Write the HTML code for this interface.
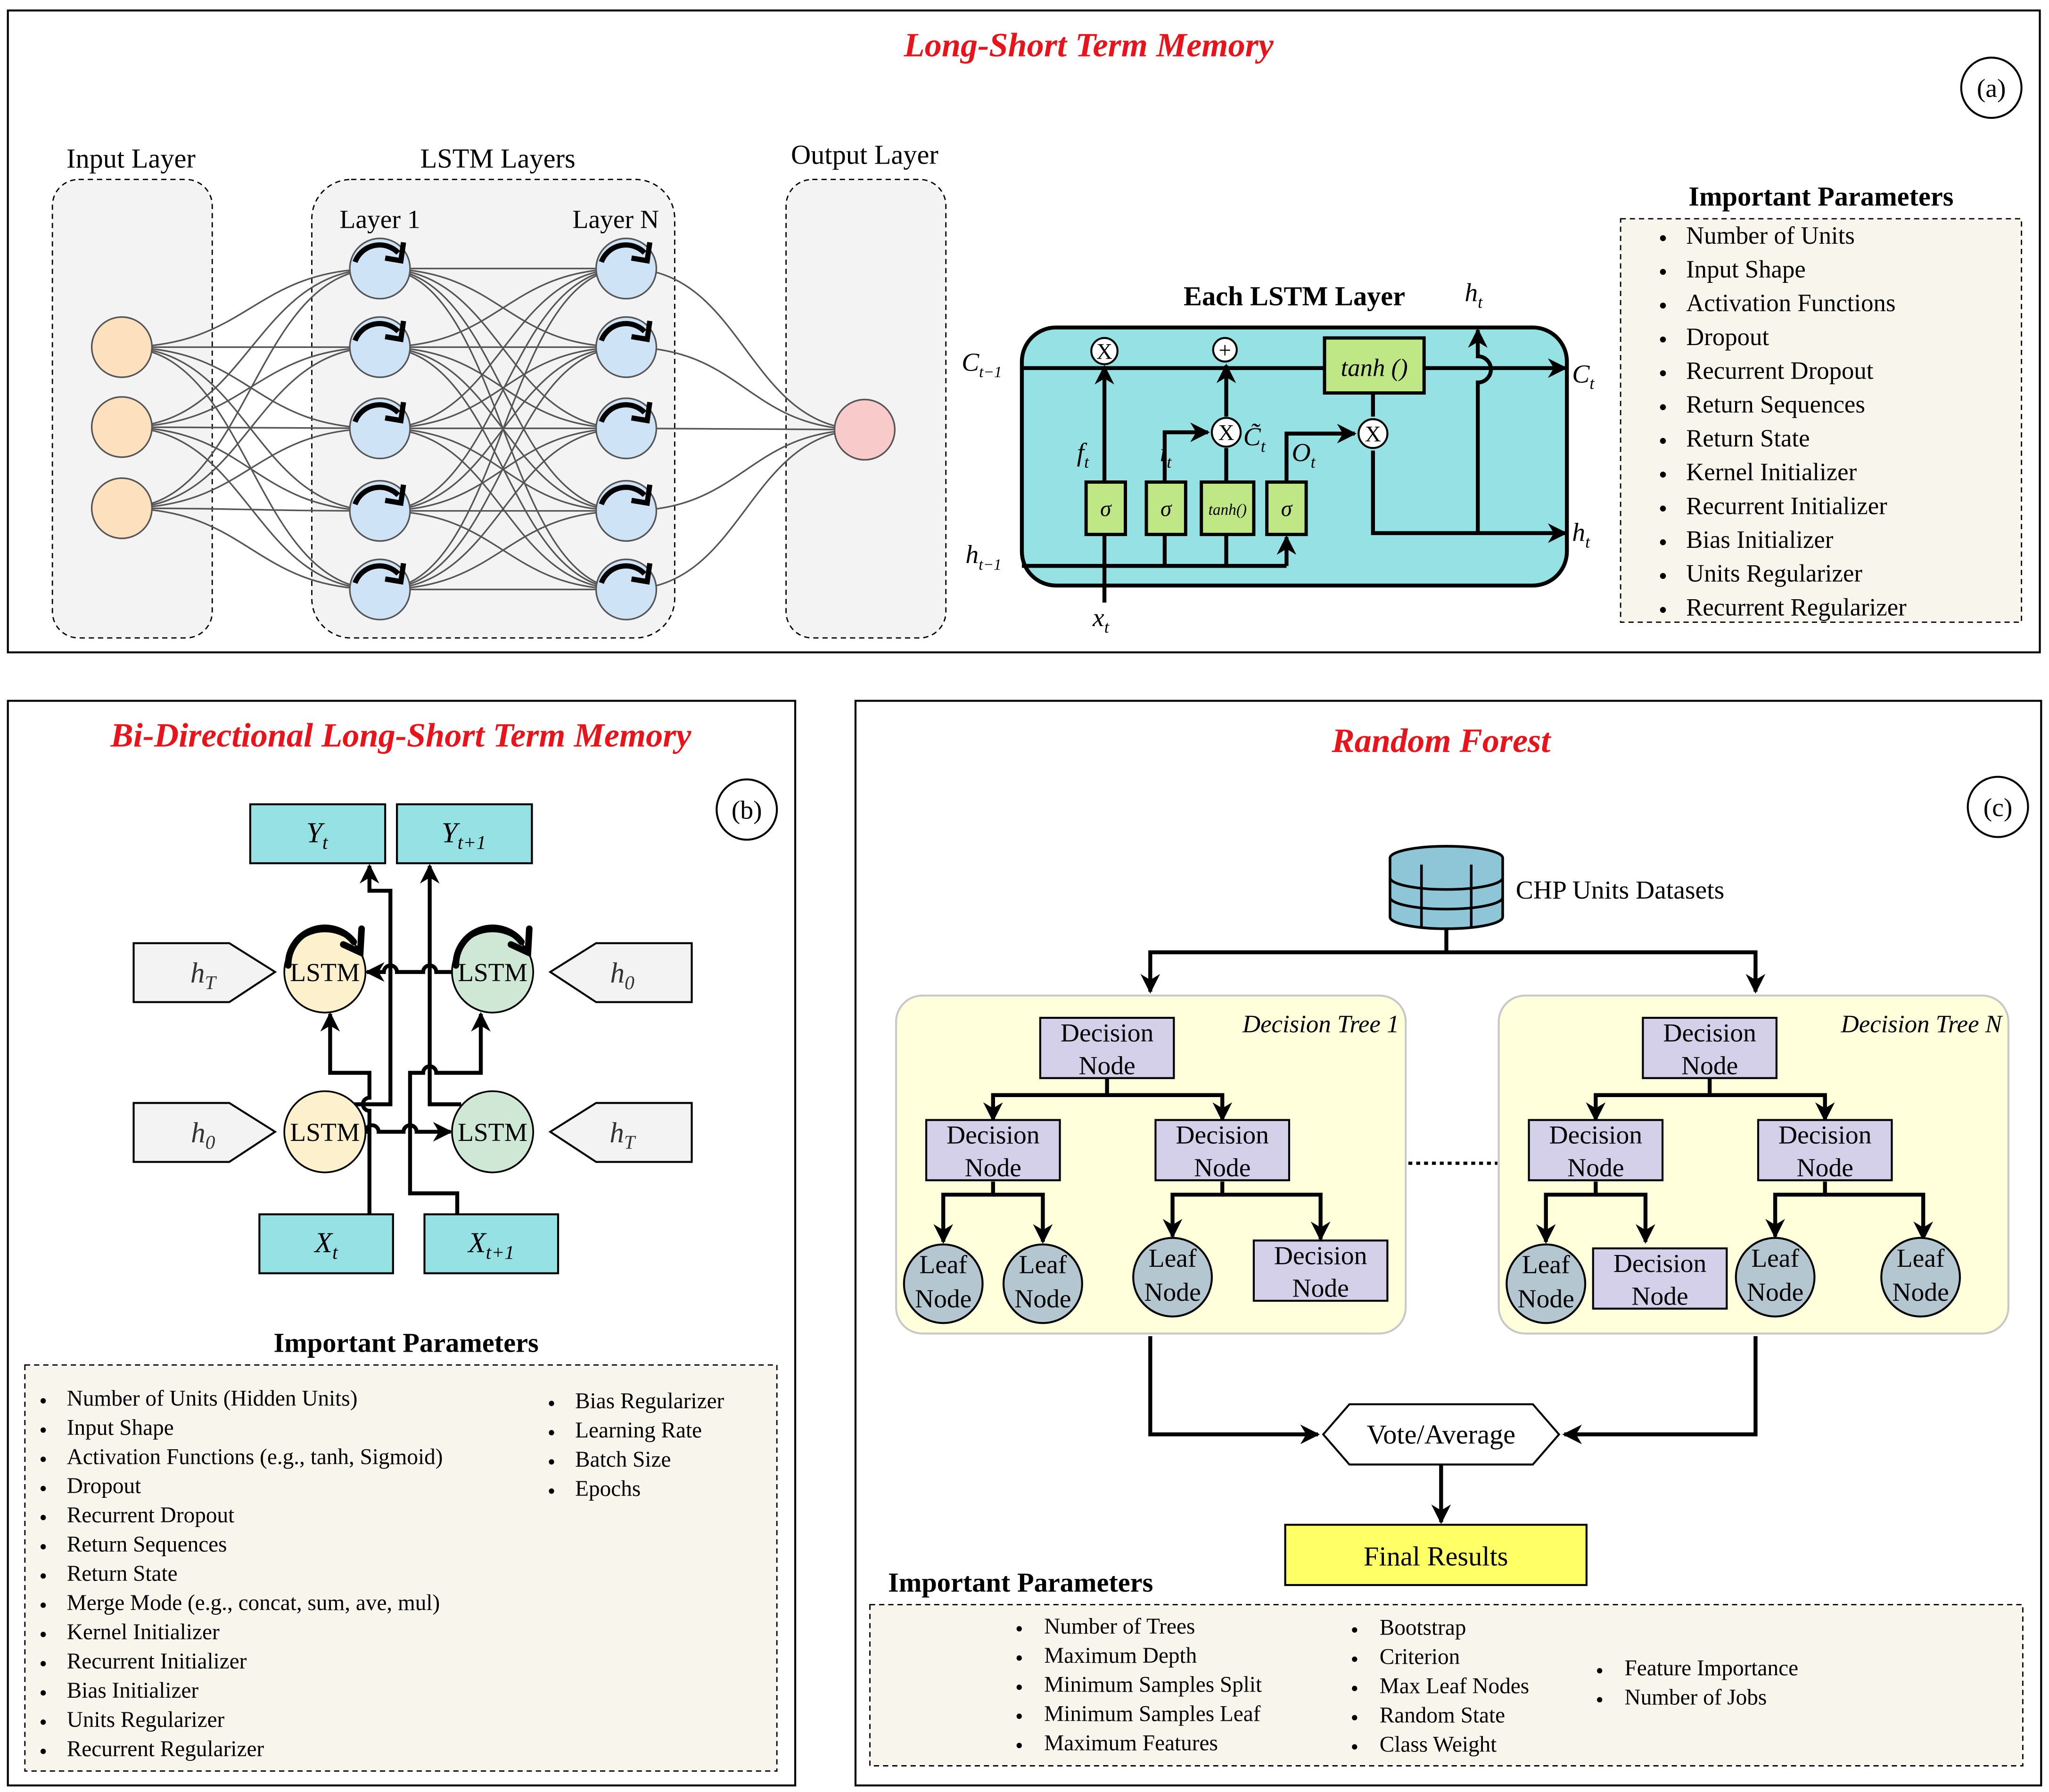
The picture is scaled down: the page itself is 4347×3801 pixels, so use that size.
<!DOCTYPE html>
<html><head><meta charset="utf-8"><style>
html,body{margin:0;padding:0;background:#fff;}
svg{display:block;}
text{font-family:"Liberation Serif",serif;}
</style></head><body>
<svg id="s" width="4347" height="3801" viewBox="0 0 1564 1368" preserveAspectRatio="none" xmlns="http://www.w3.org/2000/svg">
<defs>
<marker id="ar" viewBox="0 0 10 10" refX="9" refY="5" markerWidth="5" markerHeight="5" orient="auto"><path d="M0,0 L10,5 L0,10 L3,5 z" fill="#000"/></marker>
</defs>
<rect width="1564" height="1368" fill="#fff"/>
<!-- Panel a -->
<rect x="6" y="8" width="1551" height="490" fill="#fff" stroke="#000" stroke-width="1.5"/>
<text x="831" y="43" text-anchor="middle" font-size="26" font-weight="bold" font-style="italic" fill="#e8141b">Long-Short Term Memory</text>
<circle cx="1520" cy="67" r="23" fill="#fff" stroke="#000" stroke-width="1.5"/>
<text x="1520" y="74" text-anchor="middle" font-size="20">(a)</text>
<rect x="40" y="137" width="122" height="350" rx="20" fill="#f3f3f3" stroke="#000" stroke-dasharray="4,3"/>
<rect x="238" y="137" width="277" height="350" rx="30" fill="#f3f3f3" stroke="#000" stroke-dasharray="4,3"/>
<rect x="600" y="137" width="122" height="350" rx="20" fill="#f3f3f3" stroke="#000" stroke-dasharray="4,3"/>
<text x="100" y="128" text-anchor="middle" font-size="21">Input Layer</text>
<text x="380" y="128" text-anchor="middle" font-size="21">LSTM Layers</text>
<text x="660" y="125" text-anchor="middle" font-size="21">Output Layer</text>
<text x="290" y="174" text-anchor="middle" font-size="20">Layer 1</text>
<text x="470" y="174" text-anchor="middle" font-size="20">Layer N</text>
<g id="conns" fill="none" stroke="#555" stroke-width="1.2"></g>
<g id="nodes"></g>
<!-- LSTM cell -->
<text x="988" y="233" text-anchor="middle" font-size="21" font-weight="bold">Each LSTM Layer</text>
<text x="1118" y="230" font-size="20" font-style="italic">h<tspan font-size="13" dy="5">t</tspan></text>
<rect x="780" y="250" width="416" height="197" rx="26" fill="#95e1e4" stroke="#000" stroke-width="3"/>
<g stroke="#000" stroke-width="3" fill="none">
<line x1="780" y1="281" x2="1010" y2="281"/>
<line x1="1087" y1="281" x2="1195" y2="281" marker-end="url(#ar)"/>
<line x1="780" y1="432" x2="982" y2="432"/>
<line x1="982" y1="432" x2="982" y2="410" marker-end="url(#ar)"/>
<line x1="843" y1="460" x2="843" y2="409"/>
<line x1="889" y1="432" x2="889" y2="409"/>
<line x1="936" y1="432" x2="936" y2="409"/>
<line x1="843" y1="368" x2="843" y2="280" marker-end="url(#ar)"/>
<polyline points="889,368 889,330 922,330" marker-end="url(#ar)"/>
<line x1="936" y1="368" x2="936" y2="342"/>
<line x1="936" y1="318" x2="936" y2="279" marker-end="url(#ar)"/>
<polyline points="982,368 982,331 1034,331" marker-end="url(#ar)"/>
<line x1="1048" y1="300" x2="1048" y2="318"/>
<polyline points="1048,344 1048,407 1195,407" marker-end="url(#ar)"/>
<path d="M1128,407 L1128,292 A6,6 0 0 0 1128,272 L1128,252" marker-end="url(#ar)"/>
</g>
<g stroke="#000" stroke-width="1.5" fill="#fff">
<circle cx="843" cy="268" r="10"/><circle cx="935" cy="267" r="9"/><circle cx="936" cy="330" r="11"/><circle cx="1048" cy="331" r="11"/>
</g>
<g font-size="17" text-anchor="middle"><text x="843" y="274">X</text><text x="935" y="273">+</text><text x="936" y="336">X</text><text x="1048" y="337">X</text></g>
<g stroke="#000" stroke-width="2.5" fill="#bfe786">
<rect x="1011" y="258" width="76" height="42"/><rect x="829" y="368" width="30" height="40"/><rect x="875" y="368" width="30" height="40"/><rect x="917" y="368" width="40" height="40"/><rect x="967" y="368" width="30" height="40"/>
</g>
<g font-style="italic" text-anchor="middle">
<text x="1049" y="287" font-size="19">tanh ()</text>
<text x="844" y="394" font-size="17">σ</text><text x="890" y="394" font-size="17">σ</text><text x="937" y="393" font-size="12">tanh()</text><text x="982" y="394" font-size="17">σ</text>
</g>
<g font-style="italic" font-size="20">
<text x="822" y="352">f<tspan font-size="13" dy="5">t</tspan></text>
<text x="885" y="352">i<tspan font-size="13" dy="5">t</tspan></text>
<text x="949" y="340">C̃<tspan font-size="13" dy="5">t</tspan></text>
<text x="986" y="352">O<tspan font-size="13" dy="5">t</tspan></text>
<text x="734" y="283">C<tspan font-size="12" dy="5">t−1</tspan></text>
<text x="1200" y="292">C<tspan font-size="13" dy="5">t</tspan></text>
<text x="737" y="430">h<tspan font-size="12" dy="5">t−1</tspan></text>
<text x="1200" y="413">h<tspan font-size="13" dy="5">t</tspan></text>
<text x="834" y="478">x<tspan font-size="13" dy="5">t</tspan></text>
</g>
<!-- params a -->
<text x="1390" y="157" text-anchor="middle" font-size="21" font-weight="bold">Important Parameters</text>
<rect x="1237" y="167" width="306" height="308" fill="#f8f6ec" stroke="#000" stroke-dasharray="4,3"/>
<g id="pa" font-size="19"></g>
<!-- Panel b -->
<rect x="6" y="535" width="601" height="828" fill="#fff" stroke="#000" stroke-width="1.5"/>
<text x="306" y="570" text-anchor="middle" font-size="26" font-weight="bold" font-style="italic" fill="#e8141b">Bi-Directional Long-Short Term Memory</text>
<circle cx="570" cy="618" r="23" fill="#fff" stroke="#000" stroke-width="1.5"/>
<text x="570" y="625" text-anchor="middle" font-size="20">(b)</text>
<g stroke="#000" stroke-width="1.5" fill="#95e1e4">
<rect x="191" y="614" width="103" height="45"/><rect x="303" y="614" width="103" height="45"/>
<rect x="198" y="927" width="102" height="45"/><rect x="324" y="927" width="102" height="45"/>
</g>
<g stroke="#000" stroke-width="1.5" fill="#f3f3f3">
<polygon points="102,720 175,720 210,742 175,765 102,765"/>
<polygon points="102,842 175,842 210,864 175,887 102,887"/>
<polygon points="528,720 455,720 420,742 455,765 528,765"/>
<polygon points="528,842 455,842 420,864 455,887 528,887"/>
</g>
<g font-style="italic" font-size="22" text-anchor="middle" fill="#333">
<text x="155" y="750">h<tspan font-size="15" dy="5">T</tspan></text>
<text x="155" y="872">h<tspan font-size="15" dy="5">0</tspan></text>
<text x="475" y="750">h<tspan font-size="15" dy="5">0</tspan></text>
<text x="475" y="872">h<tspan font-size="15" dy="5">T</tspan></text>
</g>
<g font-style="italic" font-size="22" text-anchor="middle">
<text x="242" y="643">Y<tspan font-size="15" dy="5">t</tspan></text>
<text x="354" y="643">Y<tspan font-size="15" dy="5">t+1</tspan></text>
<text x="249" y="956">X<tspan font-size="15" dy="5">t</tspan></text>
<text x="375" y="956">X<tspan font-size="15" dy="5">t+1</tspan></text>
</g>
<g stroke="#000" stroke-width="3" fill="none">
<path d="M269,843 L298,843 L298,680 L282,680 L282,661" marker-end="url(#ar)"/>
<path d="M352,843 L328,843 L328,661" marker-end="url(#ar)"/>
<path d="M282,927 L282,848 A5,5 0 0 1 282,838 L282,819 L252,819 L252,774" marker-end="url(#ar)"/>
<path d="M349,927 L349,911 L313,911 L313,819 L323,819 A5,5 0 0 1 333,819 L367,819 L367,774" marker-end="url(#ar)"/>
<path d="M345,742 L333,742 A5,5 0 0 0 323,742 L303,742 A5,5 0 0 0 293,742 L280,742" marker-end="url(#ar)"/>
<path d="M278,864 L279,864 A5,5 0 0 1 289,864 L308,864 A5,5 0 0 1 318,864 L344,864" marker-end="url(#ar)"/>
</g>
<g stroke="#000" stroke-width="1.3">
<ellipse cx="248" cy="742" rx="31" ry="31" fill="#fdf0cc"/><ellipse cx="376" cy="742" rx="31" ry="31" fill="#cfe8d6"/>
<ellipse cx="248" cy="864" rx="31" ry="31" fill="#fdf0cc"/><ellipse cx="376" cy="864" rx="31" ry="31" fill="#cfe8d6"/>
</g>
<g stroke="#000" stroke-width="5" fill="none" stroke-linecap="round">
<path d="M220,737 A28,28 0 0 1 270,719"/><path d="M262,721 L275,727 L276,709"/>
<path d="M348,737 A28,28 0 0 1 398,719"/><path d="M390,721 L403,727 L404,709"/>
</g>
<g font-size="20" text-anchor="middle"><text x="248" y="749">LSTM</text><text x="376" y="749">LSTM</text><text x="248" y="871">LSTM</text><text x="376" y="871">LSTM</text></g>
<text x="310" y="1032" text-anchor="middle" font-size="21" font-weight="bold">Important Parameters</text>
<rect x="19" y="1042" width="574" height="310" fill="#f8f6ec" stroke="#000" stroke-dasharray="4,3"/>
<g id="pb" font-size="17"></g>
<!-- Panel c -->
<rect x="653" y="535" width="905" height="828" fill="#fff" stroke="#000" stroke-width="1.5"/>
<text x="1100" y="574" text-anchor="middle" font-size="26" font-weight="bold" font-style="italic" fill="#e8141b">Random Forest</text>
<circle cx="1525" cy="616" r="23" fill="#fff" stroke="#000" stroke-width="1.5"/>
<text x="1525" y="623" text-anchor="middle" font-size="20">(c)</text>
<g stroke="#000" stroke-width="2" fill="#8ec6d8">
<ellipse cx="1104" cy="655" rx="43" ry="9"/>
<path d="M1061,655 L1061,700 A43,9 0 0 0 1147,700 L1147,655"/>
<path d="M1061,670 A43,9 0 0 0 1147,670 M1061,685 A43,9 0 0 0 1147,685" fill="none"/>
<line x1="1085" y1="660" x2="1085" y2="708"/><line x1="1123" y1="660" x2="1123" y2="708"/>
</g>
<text x="1157" y="686" font-size="20">CHP Units Datasets</text>
<g stroke="#000" stroke-width="3" fill="none">
<line x1="1104" y1="708" x2="1104" y2="727"/>
<polyline points="878,755 878,727 1340,727 1340,755"/>
<line x1="878" y1="740" x2="878" y2="757" marker-end="url(#ar)"/><line x1="1340" y1="740" x2="1340" y2="757" marker-end="url(#ar)"/>
<polyline points="878,1020 878,1095 1006,1095" marker-end="url(#ar)"/>
<polyline points="1340,1020 1340,1095 1194,1095" marker-end="url(#ar)"/>
<line x1="1100" y1="1118" x2="1100" y2="1162" marker-end="url(#ar)"/>
</g>
<line x1="1075" y1="888" x2="1143" y2="888" stroke="#000" stroke-width="2.5" stroke-dasharray="3,3"/>
<g id="trees"></g>
<polygon points="1010,1095 1030,1072 1170,1072 1190,1095 1170,1118 1030,1118" fill="#fff" stroke="#000" stroke-width="1.5"/>
<text x="1100" y="1102" text-anchor="middle" font-size="21">Vote/Average</text>
<rect x="981" y="1164" width="230" height="46" fill="#ffff66" stroke="#000" stroke-width="1.5"/>
<text x="1096" y="1195" text-anchor="middle" font-size="21">Final Results</text>
<text x="779" y="1215" text-anchor="middle" font-size="21" font-weight="bold">Important Parameters</text>
<rect x="664" y="1225" width="880" height="123" fill="#f8f6ec" stroke="#000" stroke-dasharray="4,3"/>
<g id="pc" font-size="17"></g>
</svg>
<script>
var NS="http://www.w3.org/2000/svg";
function el(p,t,a,txt){var e=document.createElementNS(NS,t);for(var k in a)e.setAttribute(k,a[k]);if(txt!=null)e.textContent=txt;document.getElementById(p).appendChild(e);return e;}
var inY=[265,326,388],lY=[205,265,327,390,450];
function curve(x1,y1,x2,y2){var m=(x1+x2)/2;el("conns","path",{d:"M"+x1+","+y1+" C"+m+","+y1+" "+m+","+y2+" "+x2+","+y2});}
inY.forEach(function(a){lY.forEach(function(b){curve(93,a,290,b);});});
lY.forEach(function(a){lY.forEach(function(b){curve(290,a,478,b);});});
lY.forEach(function(a){curve(478,a,660,328);});
inY.forEach(function(y){el("nodes","circle",{cx:93,cy:y,r:23,fill:"#fde0bd",stroke:"#555","stroke-width":1.2});});
[290,478].forEach(function(x){lY.forEach(function(y){
el("nodes","circle",{cx:x,cy:y,r:23,fill:"#cfe3f7",stroke:"#555","stroke-width":1.2});
el("nodes","path",{d:"M"+(x-19)+","+(y-5)+" A20,20 0 0 1 "+(x+14)+","+(y-12),fill:"none",stroke:"#000","stroke-width":4});
el("nodes","path",{d:"M"+(x+4)+","+(y-8)+" L"+(x+16)+","+(y-6)+" L"+(x+18)+","+(y-20),fill:"none",stroke:"#000","stroke-width":4});
});});
el("nodes","circle",{cx:660,cy:328,r:23,fill:"#f9caca",stroke:"#555","stroke-width":1.2});
var pa=["Number of Units","Input Shape","Activation Functions","Dropout","Recurrent Dropout","Return Sequences","Return State","Kernel Initializer","Recurrent Initializer","Bias Initializer","Units Regularizer","Recurrent Regularizer"];
pa.forEach(function(t,i){var y=186+i*25.8;el("pa","text",{x:1266,y:y+2},"•");el("pa","text",{x:1287,y:y},t);});
var pb=["Number of Units (Hidden Units)","Input Shape","Activation Functions (e.g., tanh, Sigmoid)","Dropout","Recurrent Dropout","Return Sequences","Return State","Merge Mode (e.g., concat, sum, ave, mul)","Kernel Initializer","Recurrent Initializer","Bias Initializer","Units Regularizer","Recurrent Regularizer"];
pb.forEach(function(t,i){var y=1073+i*22.3;el("pb","text",{x:30,y:y+2},"•");el("pb","text",{x:51,y:y},t);});
["Bias Regularizer","Learning Rate","Batch Size","Epochs"].forEach(function(t,i){var y=1075+i*22.3;el("pb","text",{x:418,y:y+2},"•");el("pb","text",{x:439,y:y},t);});
function col(arr,bx,tx,y0){arr.forEach(function(t,i){var y=y0+i*22.3;el("pc","text",{x:bx,y:y+2},"•");el("pc","text",{x:tx,y:y},t);});}
col(["Number of Trees","Maximum Depth","Minimum Samples Split","Minimum Samples Leaf","Maximum Features"],775,797,1247);
col(["Bootstrap","Criterion","Max Leaf Nodes","Random State","Class Weight"],1031,1053,1248);
col(["Feature Importance","Number of Jobs"],1218,1240,1279);
function tree(o,name,alt){
el("trees","rect",{x:684+o,y:760,width:389,height:258,rx:20,fill:"#ffffdc",stroke:"#c8c8c8","stroke-width":1.5});
el("trees","text",{x:1068+o,y:788,"text-anchor":"end","font-size":19,"font-style":"italic"},name);
function ln(pts,arrow){var a={points:pts,stroke:"#000","stroke-width":3,fill:"none"};if(arrow)a["marker-end"]="url(#ar)";el("trees","polyline",a);}
ln((845+o)+",823 "+(845+o)+",836 "+(758+o)+",836 "+(758+o)+",855",1);
ln((845+o)+",836 "+(933+o)+",836 "+(933+o)+",855",1);
ln((758+o)+",902 "+(758+o)+",912 "+(720+o)+",912 "+(720+o)+",948",1);
ln((758+o)+",912 "+(796+o)+",912 "+(796+o)+",948",1);
ln((933+o)+",902 "+(933+o)+",912 "+(895+o)+",912 "+(895+o)+",944",1);
ln((933+o)+",912 "+(1008+o)+",912 "+(1008+o)+",946",1);
function dn(x,y,w){el("trees","rect",{x:x+o,y:y,width:w,height:46,fill:"#d4d0ea",stroke:"#000","stroke-width":1.5});
el("trees","text",{x:x+o+w/2,y:y+18,"text-anchor":"middle","font-size":20},"Decision");el("trees","text",{x:x+o+w/2,y:y+43,"text-anchor":"middle","font-size":20},"Node");}
function lf(x,y){el("trees","circle",{cx:x+o,cy:y,r:30,fill:"#b4c7d1",stroke:"#000","stroke-width":1.5});
el("trees","text",{x:x+o,y:y-8,"text-anchor":"middle","font-size":20},"Leaf");el("trees","text",{x:x+o,y:y+18,"text-anchor":"middle","font-size":20},"Node");}
dn(794,777,102);dn(707,855,102);dn(882,855,102);
if(!alt){lf(720,980);lf(796,980);lf(895,975);dn(957,947,102);}
else{lf(720,980);dn(756,953,102);lf(895,975);lf(1006,975);}
}
tree(0,"Decision Tree 1",false);
tree(460,"Decision Tree N",true);
</script>
</body></html>
